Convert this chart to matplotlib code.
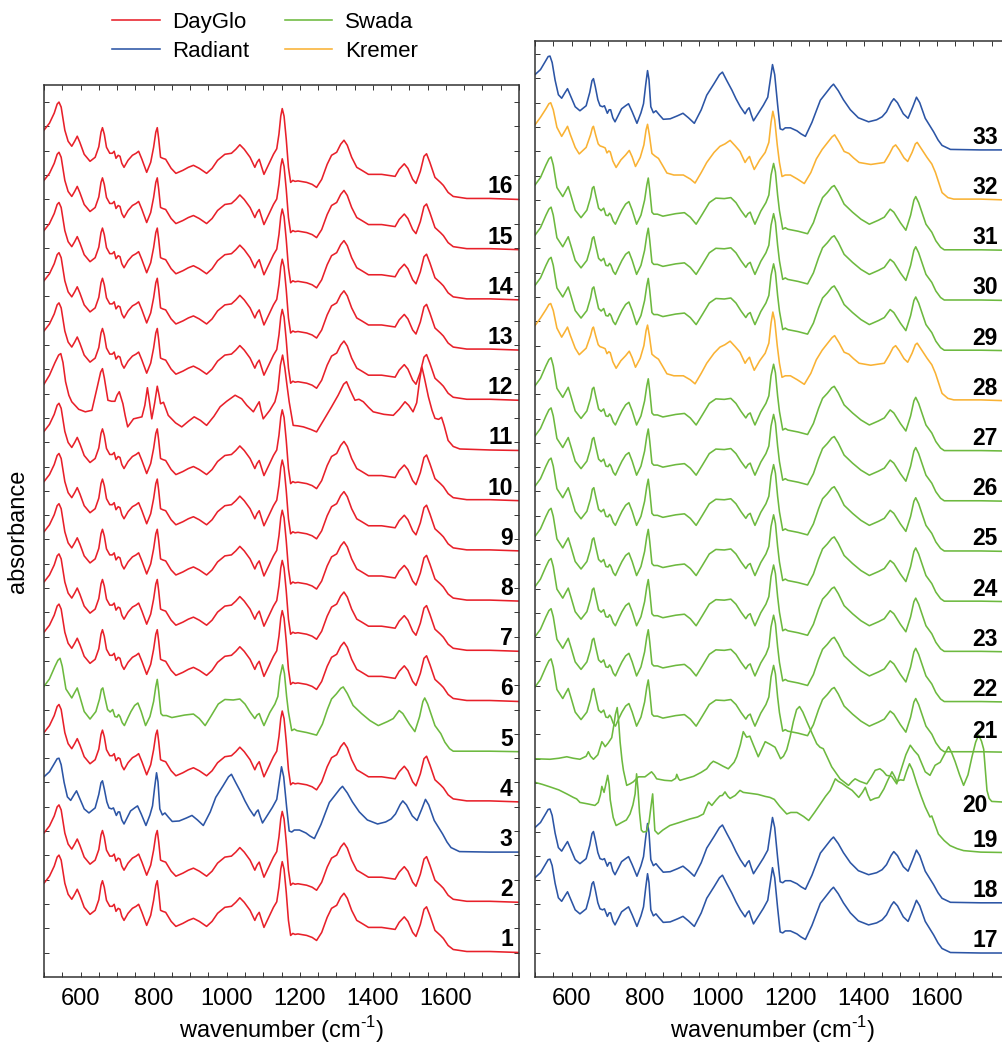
"""
Stacked FTIR spectra of fluorescent pigments (samples 1-33)
"""

import matplotlib.pyplot as plt
import numpy as np
from matplotlib.lines import Line2D

plt.rcParams['font.family'] = ['Liberation Sans', 'DejaVu Sans']
plt.rcParams['mathtext.fontset'] = 'custom'
plt.rcParams['mathtext.rm'] = 'Liberation Sans'

# ---------------------------------------------------------------------------
# Spectral profiles (wavenumber cm-1, absorbance above own baseline)
# ---------------------------------------------------------------------------
DAYGLO = [
    (500, 1.38), (515, 1.52), (528, 1.72), (536, 1.90), (541, 1.94), (547, 1.84),
    (557, 1.38), (566, 1.16), (576, 1.06), (584, 1.16), (591, 1.26), (598, 1.14),
    (610, 0.90), (626, 0.76), (640, 0.84), (650, 1.05), (656, 1.34), (660, 1.43),
    (665, 1.30), (671, 1.04), (680, 0.92), (687, 0.92), (692, 0.96), (697, 0.82),
    (703, 0.88), (708, 0.86), (713, 0.72), (719, 0.64), (730, 0.78), (742, 0.88),
    (752, 0.92), (759, 0.96), (768, 0.80), (781, 0.54), (792, 0.74), (800, 1.04),
    (806, 1.34), (810, 1.43), (814, 1.20), (819, 0.84), (825, 0.82), (833, 0.80),
    (848, 0.62), (861, 0.52), (880, 0.58), (895, 0.64), (909, 0.68), (925, 0.62),
    (945, 0.52), (960, 0.62), (975, 0.78), (995, 0.90), (1013, 0.92), (1025, 1.00),
    (1036, 1.09), (1048, 1.00), (1064, 0.84), (1077, 0.64), (1083, 0.74), (1089, 0.80),
    (1095, 0.66), (1102, 0.50), (1115, 0.70), (1128, 0.90), (1137, 1.01), (1143, 1.30),
    (1148, 1.66), (1152, 1.81), (1157, 1.66), (1163, 1.20), (1169, 0.64), (1175, 0.34),
    (1181, 0.38), (1187, 0.36), (1195, 0.37), (1219, 0.34), (1234, 0.30), (1246, 0.24),
    (1260, 0.40), (1275, 0.70), (1287, 0.88), (1301, 0.94), (1312, 1.10), (1321, 1.18),
    (1330, 1.08), (1342, 0.84), (1356, 0.64), (1370, 0.58), (1388, 0.50), (1424, 0.50),
    (1461, 0.46), (1472, 0.60), (1486, 0.71), (1496, 0.62), (1509, 0.40), (1518, 0.32),
    (1530, 0.56), (1540, 0.86), (1547, 0.91), (1556, 0.74), (1570, 0.44), (1585, 0.34),
    (1593, 0.28), (1606, 0.14), (1620, 0.06), (1657, 0.02), (1720, 0.02), (1800, 0.00),
]

DAYGLO_11 = [
    (500, 1.32), (515, 1.50), (530, 1.75), (540, 1.90), (546, 1.93), (552, 1.75),
    (559, 1.37), (568, 1.10), (576, 0.97), (595, 0.82), (613, 0.77), (631, 0.80),
    (645, 1.24), (655, 1.56), (660, 1.63), (665, 1.45), (675, 1.00), (685, 0.98),
    (694, 0.98), (700, 1.10), (706, 1.17), (711, 1.05), (716, 0.93), (722, 0.70),
    (729, 0.47), (745, 0.63), (768, 0.67), (776, 0.90), (783, 1.25), (789, 0.95),
    (795, 0.63), (803, 0.95), (810, 1.28), (815, 1.10), (819, 0.93), (827, 0.96),
    (840, 0.70), (860, 0.55), (877, 0.47), (895, 0.58), (911, 0.67), (928, 0.60),
    (945, 0.50), (965, 0.68), (982, 0.87), (1000, 0.98), (1023, 1.10), (1041, 1.03),
    (1055, 0.90), (1073, 0.77), (1083, 0.90), (1089, 0.97), (1094, 0.80), (1100, 0.63),
    (1118, 0.80), (1132, 0.97), (1140, 1.20), (1147, 1.70), (1153, 1.90), (1159, 1.65),
    (1165, 1.30), (1171, 0.97), (1182, 0.50), (1195, 0.49), (1210, 0.47), (1230, 0.42),
    (1246, 0.37), (1265, 0.60), (1287, 0.87), (1305, 1.10), (1320, 1.32), (1328, 1.37),
    (1338, 1.20), (1351, 1.00), (1362, 1.02), (1374, 0.97), (1388, 0.86), (1401, 0.77),
    (1430, 0.72), (1456, 0.70), (1472, 0.82), (1488, 0.97), (1498, 0.90), (1510, 0.77),
    (1520, 0.95), (1528, 1.40), (1534, 1.67), (1541, 1.45), (1552, 1.07), (1562, 0.80),
    (1570, 0.64), (1580, 0.62), (1588, 0.66), (1595, 0.50), (1606, 0.20), (1620, 0.08),
    (1638, 0.03), (1720, 0.01), (1800, 0.00),
]

RADIANT = [
    (500, 1.50), (515, 1.60), (528, 1.76), (536, 1.86), (541, 1.87), (547, 1.74),
    (555, 1.39), (564, 1.10), (573, 1.03), (582, 1.14), (589, 1.22), (596, 1.10),
    (610, 0.86), (623, 0.78), (640, 0.88), (650, 1.15), (656, 1.38), (660, 1.42),
    (665, 1.26), (672, 1.00), (678, 0.88), (685, 0.86), (690, 0.88), (698, 0.73),
    (703, 0.80), (707, 0.80), (713, 0.64), (719, 0.56), (737, 0.82), (748, 0.88),
    (756, 0.92), (766, 0.76), (779, 0.53), (790, 0.74), (797, 0.92), (803, 1.30),
    (808, 1.58), (812, 1.40), (817, 0.86), (824, 0.74), (831, 0.78), (840, 0.70),
    (851, 0.61), (870, 0.62), (890, 0.68), (905, 0.73), (920, 0.64), (936, 0.53),
    (955, 0.80), (970, 1.09), (990, 1.32), (1005, 1.50), (1013, 1.55), (1025, 1.38),
    (1039, 1.19), (1050, 1.02), (1062, 0.86), (1075, 0.72), (1081, 0.80), (1086, 0.84),
    (1092, 0.70), (1098, 0.58), (1112, 0.74), (1125, 0.89), (1137, 1.05), (1144, 1.40),
    (1150, 1.70), (1156, 1.50), (1164, 0.90), (1171, 0.42), (1178, 0.40), (1185, 0.44),
    (1199, 0.44), (1217, 0.38), (1228, 0.32), (1240, 0.27), (1258, 0.55), (1271, 0.80),
    (1281, 0.99), (1295, 1.12), (1310, 1.26), (1317, 1.31), (1330, 1.18), (1344, 1.00),
    (1363, 0.80), (1385, 0.64), (1413, 0.56), (1435, 0.60), (1450, 0.66), (1462, 0.76),
    (1475, 0.95), (1482, 1.02), (1492, 0.94), (1508, 0.72), (1521, 0.63), (1534, 0.86),
    (1544, 1.05), (1553, 0.94), (1568, 0.63), (1591, 0.36), (1603, 0.20), (1614, 0.09),
    (1637, 0.01), (1720, 0.00), (1800, 0.00),
]

SWADA = [
    (500, 1.30), (515, 1.45), (530, 1.70), (538, 1.82), (544, 1.86), (550, 1.70),
    (560, 1.25), (576, 1.07), (584, 1.18), (591, 1.27), (598, 1.10), (610, 0.80),
    (626, 0.65), (642, 0.80), (652, 1.05), (657, 1.24), (661, 1.27), (666, 1.10),
    (674, 0.84), (681, 0.79), (688, 0.84), (694, 0.70), (700, 0.69), (704, 0.74),
    (708, 0.70), (714, 0.58), (720, 0.52), (730, 0.68), (738, 0.80), (748, 0.92),
    (757, 0.97), (766, 0.80), (778, 0.52), (790, 0.70), (800, 1.00), (806, 1.30),
    (810, 1.44), (814, 1.20), (820, 0.76), (825, 0.72), (835, 0.72), (850, 0.68),
    (864, 0.70), (885, 0.73), (909, 0.75), (925, 0.66), (941, 0.52), (958, 0.72),
    (977, 0.95), (995, 1.04), (1018, 1.03), (1036, 1.05), (1050, 0.95), (1064, 0.79),
    (1077, 0.66), (1083, 0.73), (1089, 0.76), (1095, 0.64), (1102, 0.52), (1118, 0.78),
    (1132, 0.95), (1140, 1.10), (1146, 1.50), (1153, 1.73), (1158, 1.56), (1164, 1.10),
    (1169, 0.79), (1178, 0.42), (1185, 0.45), (1192, 0.42), (1220, 0.38), (1246, 0.33),
    (1262, 0.55), (1276, 0.85), (1287, 1.05), (1300, 1.15), (1312, 1.26), (1319, 1.29),
    (1330, 1.16), (1346, 0.92), (1369, 0.76), (1392, 0.62), (1415, 0.52), (1440, 0.60),
    (1456, 0.66), (1466, 0.76), (1472, 0.82), (1482, 0.76), (1500, 0.55), (1515, 0.40),
    (1528, 0.70), (1537, 1.00), (1542, 1.07), (1550, 0.95), (1570, 0.52), (1586, 0.36),
    (1597, 0.19), (1610, 0.06), (1620, 0.01), (1720, 0.01), (1800, 0.00),
]

KREMER = [
    (500, 1.50), (515, 1.65), (530, 1.82), (538, 1.92), (543, 1.94), (550, 1.80),
    (560, 1.45), (573, 1.27), (582, 1.38), (589, 1.47), (597, 1.30), (610, 1.05),
    (621, 0.92), (640, 1.05), (652, 1.30), (657, 1.44), (660, 1.47), (666, 1.30),
    (673, 1.12), (678, 1.08), (686, 1.06), (692, 1.04), (697, 0.94), (702, 0.98),
    (706, 0.96), (713, 0.78), (722, 0.65), (735, 0.80), (748, 0.90), (758, 0.99),
    (766, 0.86), (775, 0.67), (788, 0.85), (798, 1.10), (804, 1.40), (808, 1.51),
    (813, 1.30), (820, 0.93), (828, 0.88), (838, 0.83), (850, 0.68), (861, 0.54),
    (880, 0.50), (906, 0.50), (925, 0.42), (938, 0.34), (955, 0.55), (970, 0.75),
    (990, 0.95), (1006, 1.07), (1020, 1.12), (1034, 1.19), (1048, 1.08), (1061, 0.97),
    (1075, 0.75), (1081, 0.82), (1087, 0.87), (1093, 0.74), (1100, 0.61), (1115, 0.80),
    (1130, 0.95), (1140, 1.15), (1146, 1.55), (1151, 1.77), (1156, 1.60), (1163, 1.10),
    (1169, 0.75), (1176, 0.47), (1185, 0.50), (1199, 0.50), (1218, 0.42), (1237, 0.33),
    (1255, 0.55), (1270, 0.82), (1286, 1.01), (1300, 1.14), (1313, 1.26), (1320, 1.30),
    (1332, 1.16), (1346, 0.97), (1359, 0.93), (1372, 0.84), (1387, 0.75), (1419, 0.71),
    (1456, 0.75), (1470, 0.92), (1480, 1.06), (1487, 1.10), (1497, 1.00), (1510, 0.84),
    (1520, 0.77), (1532, 0.95), (1541, 1.12), (1546, 1.15), (1555, 1.05), (1573, 0.85),
    (1586, 0.72), (1596, 0.55), (1605, 0.35), (1614, 0.15), (1630, 0.05), (1646, 0.02),
    (1720, 0.02), (1800, 0.00),
]

SWADA_19 = [
    (500, 1.40), (520, 1.36), (541, 1.31), (565, 1.25), (587, 1.17), (605, 1.10),
    (614, 1.07), (623, 1.00), (645, 0.97), (664, 0.94), (673, 1.00), (679, 1.15),
    (683, 1.32), (689, 1.20), (695, 1.40), (699, 1.54), (703, 1.35), (706, 1.05),
    (714, 0.70), (722, 0.54), (737, 0.60), (750, 0.65), (760, 0.77), (768, 0.95),
    (774, 1.17), (778, 1.57), (782, 1.25), (786, 0.80), (791, 0.45), (796, 0.41),
    (805, 0.42), (812, 0.60), (818, 0.95), (822, 1.17), (825, 0.80), (828, 0.44),
    (837, 0.37), (850, 0.45), (869, 0.54), (895, 0.60), (924, 0.67), (945, 0.71),
    (961, 0.77), (968, 0.90), (975, 1.01), (984, 0.94), (996, 1.05), (1006, 1.13),
    (1013, 1.14), (1020, 1.21), (1028, 1.12), (1034, 1.08), (1048, 1.14), (1061, 1.24),
    (1070, 1.20), (1090, 1.18), (1110, 1.16), (1130, 1.12), (1143, 1.10), (1155, 1.06),
    (1170, 0.92), (1189, 0.77), (1200, 0.80), (1217, 0.80), (1235, 0.72), (1249, 0.64),
    (1265, 0.80), (1281, 0.97), (1295, 1.12), (1308, 1.24), (1322, 1.47), (1330, 1.42),
    (1340, 1.38), (1355, 1.30), (1368, 1.24), (1386, 1.10), (1396, 1.20), (1404, 1.30),
    (1411, 1.15), (1418, 1.04), (1430, 1.08), (1441, 1.10), (1455, 1.27), (1466, 1.45),
    (1477, 1.61), (1484, 1.52), (1490, 1.42), (1500, 1.45), (1509, 1.44), (1517, 1.62),
    (1525, 1.77), (1533, 1.65), (1545, 1.37), (1557, 1.12), (1568, 0.91), (1581, 0.71),
    (1586, 0.73), (1595, 0.55), (1604, 0.37), (1620, 0.24), (1636, 0.14), (1655, 0.08),
    (1673, 0.04), (1720, 0.01), (1800, 0.00),
]

SWADA_20 = [
    (500, 0.87), (541, 0.86), (565, 0.88), (587, 0.91), (605, 0.88), (623, 0.86),
    (640, 0.92), (646, 1.01), (652, 0.92), (660, 0.86), (672, 0.95), (683, 1.21),
    (688, 1.16), (692, 1.11), (700, 1.18), (710, 1.29), (716, 1.55), (720, 1.75),
    (725, 1.89), (729, 1.60), (733, 1.20), (738, 0.85), (742, 0.64), (751, 0.34),
    (760, 0.37), (769, 0.41), (783, 0.51), (792, 0.51), (801, 0.51), (810, 0.56),
    (819, 0.61), (826, 0.55), (833, 0.47), (855, 0.44), (874, 0.43), (885, 0.48),
    (888, 0.56), (893, 0.47), (897, 0.44), (915, 0.48), (934, 0.52), (955, 0.60),
    (970, 0.67), (980, 0.77), (988, 0.82), (1000, 0.78), (1015, 0.72), (1029, 0.67),
    (1045, 0.80), (1052, 0.91), (1062, 1.15), (1070, 1.41), (1079, 1.30), (1088, 1.32),
    (1098, 1.14), (1111, 0.91), (1120, 1.05), (1130, 1.21), (1143, 1.16), (1157, 1.10),
    (1165, 0.98), (1172, 0.87), (1180, 0.92), (1189, 1.05), (1198, 1.30), (1207, 1.61),
    (1216, 1.85), (1224, 1.91), (1233, 1.80), (1244, 1.61), (1258, 1.38), (1271, 1.17),
    (1280, 1.10), (1289, 1.07), (1300, 0.90), (1312, 0.71), (1335, 0.47), (1358, 0.34),
    (1368, 0.42), (1376, 0.47), (1389, 0.42), (1408, 0.37), (1420, 0.50), (1431, 0.64),
    (1444, 0.67), (1453, 0.62), (1462, 0.54), (1476, 0.52), (1490, 0.37), (1504, 0.70),
    (1515, 0.95), (1527, 1.14), (1538, 1.03), (1549, 0.94), (1568, 0.61), (1581, 0.54),
    (1595, 0.74), (1609, 0.80), (1620, 0.95), (1632, 1.11), (1641, 0.98), (1650, 0.81),
    (1662, 0.55), (1673, 0.34), (1685, 0.55), (1696, 0.91), (1706, 1.20), (1714, 1.34),
    (1722, 1.22), (1728, 1.06), (1733, 0.60), (1737, 0.24), (1743, 0.08), (1750, 0.02),
    (1800, 0.00),
]

# sample numbers and their supplier
LEFT_SAMPLES = list(range(1, 17))
RIGHT_SAMPLES = list(range(17, 34))
SUPPLIERS = (['DayGlo', 'DayGlo', 'Radiant', 'DayGlo', 'Swada'] + ['DayGlo'] * 11
             + ['Radiant', 'Radiant'] + ['Swada'] * 9 + ['Kremer']
             + ['Swada'] * 3 + ['Kremer', 'Radiant'])

SUPPLIER_PROFILE = {'DayGlo': DAYGLO, 'Radiant': RADIANT, 'Swada': SWADA, 'Kremer': KREMER}
SPECIAL_PROFILE = {11: DAYGLO_11, 19: SWADA_19, 20: SWADA_20}

LEGEND_ORDER = ['DayGlo', 'Radiant', 'Swada', 'Kremer']
COLORS = {'DayGlo': '#E8202A', 'Radiant': '#2C55A5', 'Swada': '#6DB93F', 'Kremer': '#F9B234'}

# ---------------------------------------------------------------------------
FIG_W, FIG_H = 1002, 1046
TICK_STEP = 0.484


def plot_panel(ax, samples, ylim, label_x):
    """Stack the spectra of one panel, one unit of offset per sample."""
    first = samples[0]
    for n in samples:
        supplier = SUPPLIERS[n - 1]
        profile = SPECIAL_PROFILE.get(n, SUPPLIER_PROFILE[supplier])
        wn, ab = np.array(profile).T
        offset = n - first
        ax.plot(wn, ab + offset, color=COLORS[supplier], lw=1.15, solid_joinstyle='round')

        x, dy = label_x, 0.12
        if n == 20:
            x, dy = label_x - 27, -0.19
        if n == 21:
            dy = 0.28
        ax.text(x, offset + dy, str(n), ha='right', va='baseline',
                fontsize=16.5, fontweight='bold', color='black')

    ax.set_xlim(500, 1800)
    ax.set_ylim(*ylim)
    ax.set_xticks(np.arange(600, 1800, 200))
    ax.set_xticks(np.arange(500, 1801, 50), minor=True)
    ax.set_yticks(np.arange(0, ylim[1], TICK_STEP))
    ax.tick_params(which='both', direction='in', top=True, right=True,
                   length=3.6, width=0.7, color='#333333', labelsize=17, pad=8)
    ax.tick_params(axis='y', labelleft=False)
    for sp in ax.spines.values():
        sp.set_linewidth(1.1)
        sp.set_color('#333333')
    ax.set_xlabel(r'wavenumber (cm$^{\mathregular{\text{-}1}}$)', fontsize=17, labelpad=3)


fig = plt.figure(figsize=(FIG_W / 100, FIG_H / 100), dpi=100)

ax1 = fig.add_axes([44 / FIG_W, 69 / FIG_H, 475 / FIG_W, 892 / FIG_H])
ax2 = fig.add_axes([535 / FIG_W, 69 / FIG_H, 475 / FIG_W, 936 / FIG_H])

plot_panel(ax1, LEFT_SAMPLES, (-0.488, 17.28), 1783)
plot_panel(ax2, RIGHT_SAMPLES, (-0.478, 18.17), 1767)

ax1.set_ylabel('absorbance', fontsize=17, labelpad=11)

handles = [Line2D([], [], color=COLORS[s], lw=1.15) for s in LEGEND_ORDER]
fig.legend(handles, LEGEND_ORDER, loc='upper left', bbox_to_anchor=(112 / FIG_W, 1 - 12 / FIG_H),
           ncol=2, frameon=False, fontsize=16, handlelength=2.15, handletextpad=0.55,
           columnspacing=1.6, labelspacing=0.35, borderpad=0, borderaxespad=0)

plt.savefig('out.png', dpi=100)
